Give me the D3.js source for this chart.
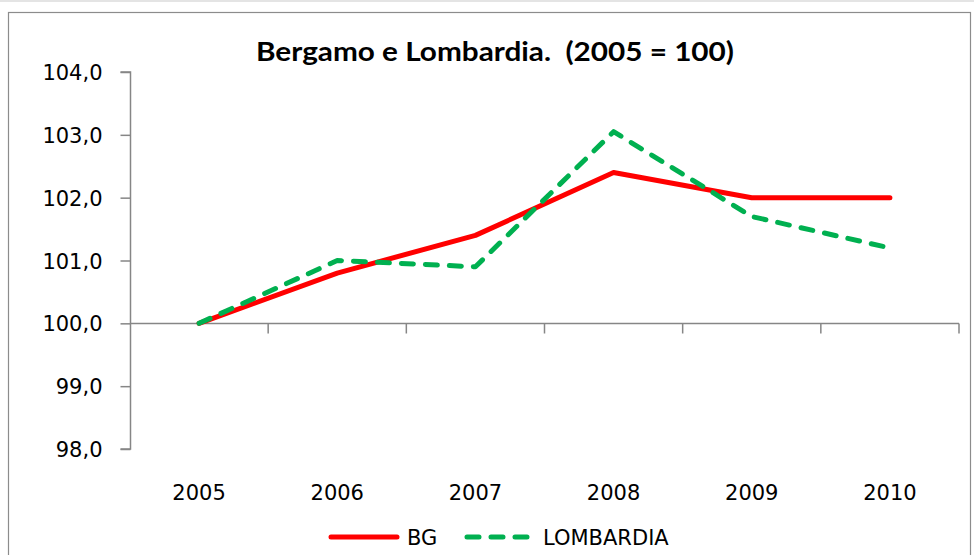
<!DOCTYPE html>
<html>
<head>
<meta charset="utf-8">
<script src="https://cdn.jsdelivr.net/npm/d3@7"></script>
<style>
  html, body { margin: 0; padding: 0; background: #fff; }
  svg { display: block; }
</style>
</head>
<body>
<svg id="chart" width="974" height="555"></svg>
<script>
// Index values, base year 2005 = 100
const years = ["2005", "2006", "2007", "2008", "2009", "2010"];
const bgValues = [100.0, 100.8, 101.4, 102.4, 102.0, 102.0];
const lombardiaValues = [100.0, 101.0, 100.9, 103.05, 101.7, 101.2];
const yTicks = [98, 99, 100, 101, 102, 103, 104];
const seriesNames = ["BG", "LOMBARDIA"];

const svg = d3.select("#chart");
const axisColor = "#868686";
const labelFont = "DejaVu Sans, Verdana, sans-serif";

// outer frame
svg.append("line").attr("x1", 0).attr("x2", 974).attr("y1", 1).attr("y2", 1)
  .attr("stroke", "#e4e4e4").attr("stroke-width", 2);
svg.append("rect").attr("x", 8.5).attr("y", 12.5).attr("width", 962).attr("height", 560)
  .attr("fill", "#fff").attr("stroke", "#8c8c8c").attr("stroke-width", 1.2);

const x = d3.scaleBand().domain(years).range([130, 959]);
const y = d3.scaleLinear().domain([98, 104]).range([449, 72]);
const cx = d => x(d) + x.bandwidth() / 2;

// title
svg.append("text")
  .attr("x", 495).attr("y", 61)
  .attr("text-anchor", "middle")
  .attr("font-family", "Lato, 'Open Sans', sans-serif")
  .attr("font-weight", "bold")
  .attr("font-size", 27)
  .attr("textLength", 478)
  .attr("lengthAdjust", "spacingAndGlyphs")
  .style("white-space", "pre")
  .attr("fill", "#000")
  .text("Bergamo e Lombardia.  (2005 = 100)");

// y axis
const yAxis = d3.axisLeft(y).tickValues(yTicks).tickSize(10).tickPadding(18)
  .tickFormat(d => d3.format(".1f")(d).replace(".", ","));
const gy = svg.append("g").attr("transform", "translate(130.5,0)").call(yAxis);
gy.select(".domain").attr("stroke", axisColor).attr("stroke-width", 1.5).attr("d", `M-10,${y(104)}H0V${y(98)}H-10`);
gy.selectAll(".tick line").attr("stroke", axisColor).attr("stroke-width", 1.5);
gy.selectAll(".tick text").attr("font-family", labelFont).attr("font-size", 21)
  .attr("fill", "#000").attr("dy", "0.36em");

// x axis crossing at 100
const xAxis = d3.axisBottom(x).tickSize(0).tickFormat(() => "");
const gx = svg.append("g").attr("transform", `translate(0,${Math.round(y(100)) + 0.5})`).call(xAxis);
gx.select(".domain").attr("stroke", axisColor).attr("stroke-width", 1.5).attr("d", `M130,0H959`);
// category boundary tick marks
gx.selectAll(".bound").data(years).enter().append("line")
  .attr("x1", d => x(d) + x.bandwidth()).attr("x2", d => x(d) + x.bandwidth())
  .attr("y1", 0).attr("y2", 10)
  .attr("stroke", axisColor).attr("stroke-width", 1.5);

// year labels at the bottom
svg.append("g").selectAll("text").data(years).enter().append("text")
  .attr("x", d => cx(d)).attr("y", 500)
  .attr("text-anchor", "middle")
  .attr("font-family", labelFont).attr("font-size", 21).attr("fill", "#000")
  .text(d => d);

// series lines
const line = d3.line().x((d, i) => cx(years[i])).y(d => y(d));

svg.append("path").datum(bgValues)
  .attr("d", line)
  .attr("fill", "none").attr("stroke", "#ff0000").attr("stroke-width", 5)
  .attr("stroke-linejoin", "round").attr("stroke-linecap", "round");

svg.append("path").datum(lombardiaValues)
  .attr("d", line)
  .attr("fill", "none").attr("stroke", "#00b050").attr("stroke-width", 5)
  .attr("stroke-dasharray", "12,12")
  .attr("stroke-linejoin", "round").attr("stroke-linecap", "round");

// legend
const legend = svg.append("g");
legend.append("line").attr("x1", 331).attr("x2", 397).attr("y1", 537).attr("y2", 537)
  .attr("stroke", "#ff0000").attr("stroke-width", 5).attr("stroke-linecap", "round");
legend.append("text").attr("x", 407).attr("y", 545)
  .attr("font-family", labelFont).attr("font-size", 21).attr("fill", "#000").text(seriesNames[0]);
legend.append("line").attr("x1", 467).attr("x2", 528).attr("y1", 537).attr("y2", 537)
  .attr("stroke", "#00b050").attr("stroke-width", 5).attr("stroke-linecap", "round")
  .attr("stroke-dasharray", "12,12");
legend.append("text").attr("x", 543).attr("y", 545)
  .attr("font-family", labelFont).attr("font-size", 21).attr("fill", "#000").text(seriesNames[1]);
</script>
</body>
</html>
